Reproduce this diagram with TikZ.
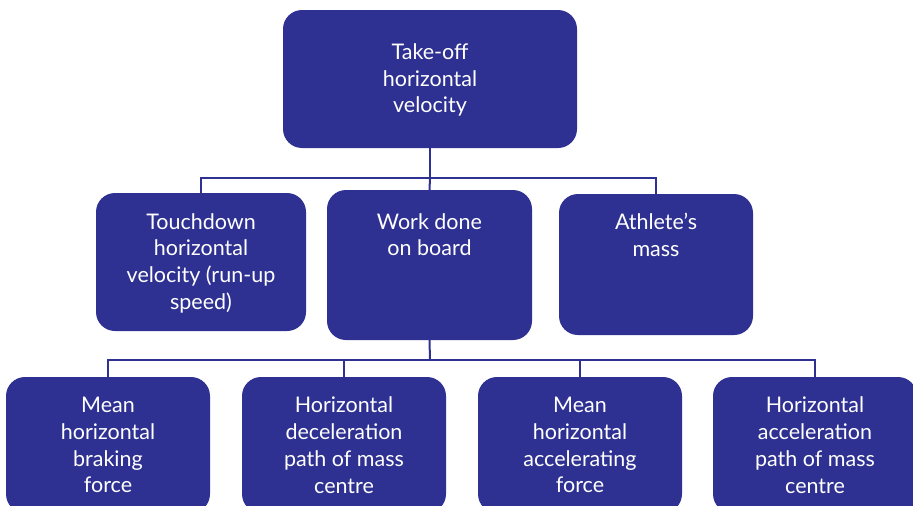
\documentclass[tikz,border=0pt]{standalone}
\usepackage{fontspec}
\setmainfont{Lato}
\definecolor{navy}{HTML}{2E3192}
\begin{document}
\begin{tikzpicture}[x=1pt,y=-1pt,
  box/.style={draw=none,fill=navy,rounded corners=19pt,inner sep=0pt},
  txt/.style={text=white,align=center,font=\fontsize{21.5}{26.8}\selectfont,inner sep=0pt},
  conn/.style={draw=navy,line width=2pt}]
\useasboundingbox (0,0) rectangle (913,506);
\begin{scope}
\clip (0,0) rectangle (913,506);
% connectors
\coordinate (bus1) at (430,178);
\coordinate (bus2) at (430,360);
% boxes
\node[box,minimum width=294pt,minimum height=138pt] (top) at (430,79) {};
\node[box,minimum width=210pt,minimum height=138pt] (m1) at (201,262) {};
\node[box,minimum width=205pt,minimum height=150pt] (m2) at (429.5,265) {};
\node[box,minimum width=194pt,minimum height=141pt] (m3) at (656,264.5) {};
\node[box,minimum width=204pt,minimum height=136pt] (b1) at (108,445) {};
\node[box,minimum width=204pt,minimum height=136pt] (b2) at (344,445) {};
\node[box,minimum width=204pt,minimum height=136pt] (b3) at (580,445) {};
\node[box,minimum width=204pt,minimum height=136pt] (b4) at (815,445) {};
\draw[conn] (top.south) -- (bus1);
\draw[conn] (m1.north) |- (bus1);
\draw[conn] (m3.north) |- (bus1);
\draw[conn] (bus1) -- (m2.north);
\draw[conn] (m2.south) -- (bus2);
\draw[conn] (b1.north) |- (bus2);
\draw[conn] (b4.north) |- (bus2);
\draw[conn] (b2.north) |- (bus2);
\draw[conn] (b3.north) |- (bus2);
% texts
\node[txt] (ttop) at (430,80) {Take-off\\horizontal\\velocity};
\node[txt,anchor=north] (tm1) at (201,213) {Touchdown\\horizontal\\velocity (run-up\\speed)};
\node[txt,anchor=north] (tm2) at (429.5,213) {Work done\\on board};
\node[txt,anchor=north] (tm3) at (656,213) {Athlete’s\\mass};
\node[txt] (tb1) at (108,445) {Mean\\horizontal\\braking\\force};
\node[txt] (tb2) at (344,445) {Horizontal\\deceleration\\path of mass\\centre};
\node[txt] (tb3) at (580,445) {Mean\\horizontal\\accelerating\\force};
\node[txt] (tb4) at (815,445) {Horizontal\\acceleration\\path of mass\\centre};
\end{scope}
\end{tikzpicture}
\end{document}
